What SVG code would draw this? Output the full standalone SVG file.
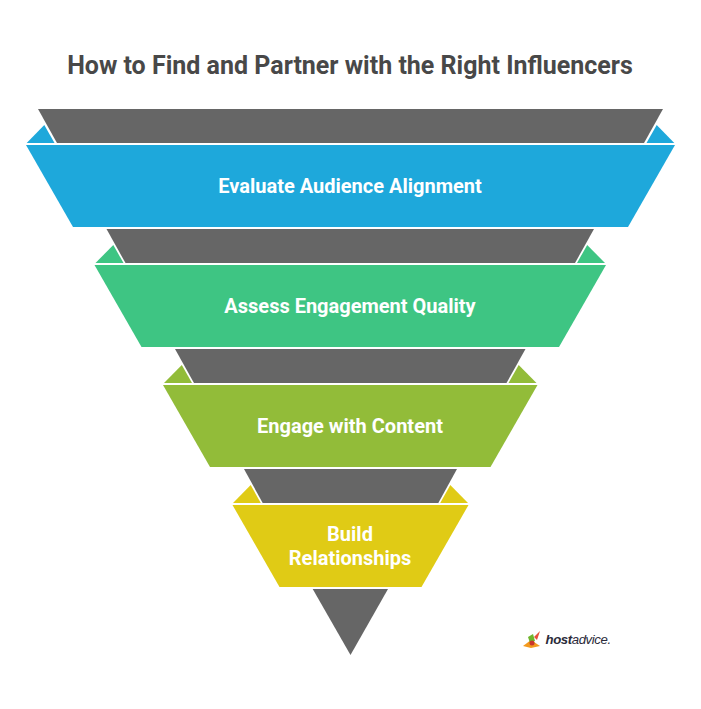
<svg xmlns="http://www.w3.org/2000/svg" width="701" height="709" viewBox="0 0 701 709">
<style>
text{font-family:Roboto,"Liberation Sans",sans-serif;text-anchor:middle}
.t{font-size:25px;font-weight:700;fill:#484848}
.l{font-size:20px;font-weight:700;fill:#fff}
.g{fill:#666}
.b{fill:#1ea8db}.n{fill:#3ec583}.o{fill:#92bc39}.y{fill:#e0cb15}
</style>
<rect width="701" height="709" fill="#fff"/>
<text class="t" x="350" y="74">How to Find and Partner with the Right Influencers</text>
<g id="step1">
<polygon class="g" points="38,109 663,109 644,143 57,143"/>
<polygon class="b" points="26.700,143 44.300,125 54.500,143"/>
<polygon class="b" points="674.300,143 656.700,125 646.500,143"/>
<polygon class="b" points="26,145 675,145 628,227 73,227"/>
<text class="l" x="350" y="193">Evaluate Audience Alignment</text>
</g>
<g id="step2">
<polygon class="g" points="106.500,229 594,229 575,263 125.500,263"/>
<polygon class="n" points="95.500,263 113.300,245 123.500,263"/>
<polygon class="n" points="605,263 587.200,245 577,263"/>
<polygon class="n" points="94.500,265 606,265 559,347 141.500,347"/>
<text class="l" x="350" y="313">Assess Engagement Quality</text>
</g>
<g id="step3">
<polygon class="g" points="175,349 525.500,349 506.500,383 194,383"/>
<polygon class="o" points="164,383 181.800,365 192,383"/>
<polygon class="o" points="536.500,383 518.700,365 508.500,383"/>
<polygon class="o" points="163,385 537.500,385 490.500,467 210,467"/>
<text class="l" x="350" y="433">Engage with Content</text>
</g>
<g id="step4">
<polygon class="g" points="244,469 457,469 438.300,503 262.700,503"/>
<polygon class="y" points="233,503 250.700,485 260.800,503"/>
<polygon class="y" points="468,503 450.300,485 440.200,503"/>
<polygon class="y" points="232.500,505 468.500,505 421.500,587 279.500,587"/>
<text class="l" x="350" y="541">Build</text>
<text class="l" x="350" y="565">Relationships</text>
</g>
<g id="step5">
<polygon class="g" points="312.700,589 388,589 350.500,655"/>
</g>
<g id="logo">
<polygon points="523,646 531,640 540,646 531,648" fill="#f39a1e"/>
<polygon points="528,637 533,634 535,641 530,643" fill="#6fb52c"/>
<polygon points="534,637 540,631 537,640" fill="#e8503a"/>
<circle cx="532" cy="643" r="2.500" fill="#c9362b"/>
<text x="545.500" y="644" style="text-anchor:start;font-family:'Liberation Sans',sans-serif;font-style:italic;font-size:13.200px;letter-spacing:-.4px;fill:#2b2b3a"><tspan font-weight="700">host</tspan><tspan font-weight="400">advice.</tspan></text>
</g>
</svg>
